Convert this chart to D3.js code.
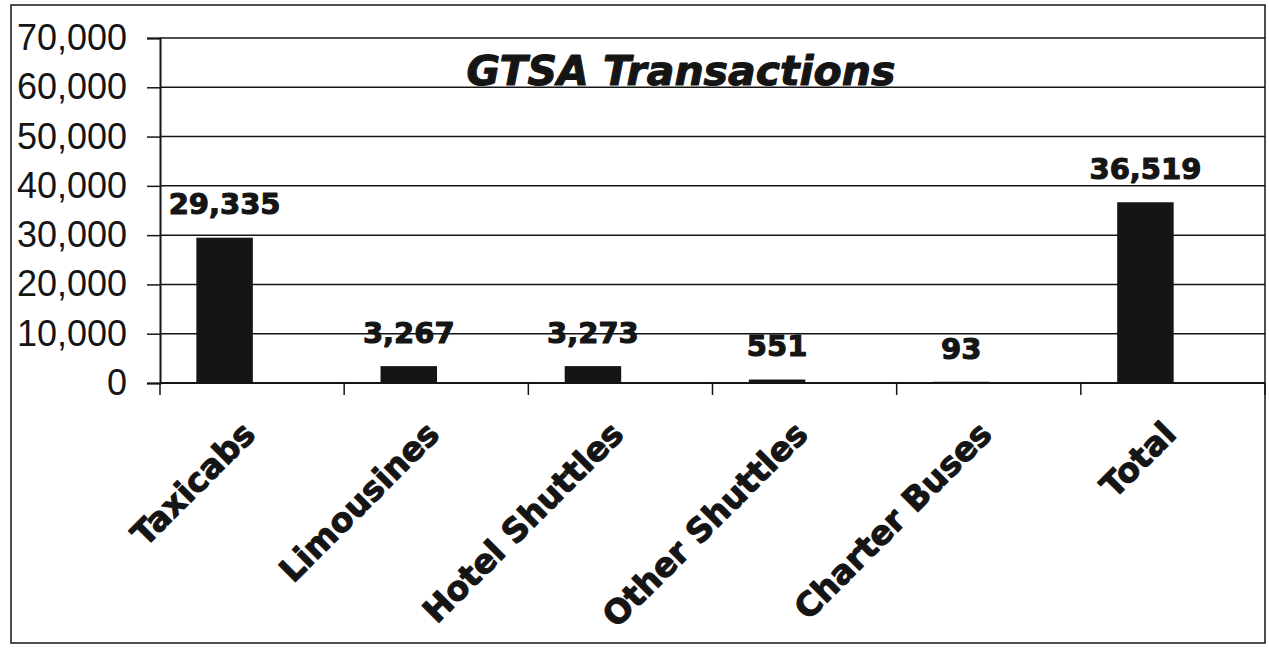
<!DOCTYPE html>
<html>
<head>
<meta charset="utf-8">
<script src="https://cdn.jsdelivr.net/npm/d3@7"></script>
<style>
  body { margin: 0; background: #fff; }
  svg { display: block; }
</style>
</head>
<body>
<svg id="chart" width="1269" height="649"></svg>
<script>
// data
var categories = ["Taxicabs", "Limousines", "Hotel Shuttles", "Other Shuttles", "Charter Buses", "Total"];
var transactions = [29335, 3267, 3273, 551, 93, 36519];
var yTicks = [0, 10000, 20000, 30000, 40000, 50000, 60000, 70000];
var title = "GTSA Transactions";

var ink = "#151515";
var svg = d3.select("#chart");

var plot = {left: 160, right: 1265, top: 38, bottom: 383};

var x = d3.scaleBand()
  .domain(categories)
  .range([plot.left, plot.right])
  .padding(0);

// excel-style cluster: value bar plus an empty slot, gap split either side
var slot = d3.scaleBand()
  .domain(["transactions", "blank"])
  .range([0, x.bandwidth()])
  .paddingInner(0)
  .paddingOuter(0.675);

var y = d3.scaleLinear()
  .domain([0, 70000])
  .range([plot.bottom, plot.top]);

var fmt = d3.format(",");

// heavy text, to stand in for Arial Black
function heavy(sel, size){
  sel.attr("fill", ink)
    .attr("stroke", ink)
    .attr("stroke-width", 1.1)
    .attr("stroke-linejoin", "round")
    .style("font-family", "'DejaVu Sans', sans-serif")
    .style("font-weight", "bold")
    .style("font-size", size + "px");
}

// outer frame
svg.append("rect")
  .attr("x", 11)
  .attr("y", 5)
  .attr("width", 1254)
  .attr("height", 638)
  .attr("fill", "none")
  .attr("stroke", ink)
  .attr("stroke-width", 1.5);

// gridlines
svg.append("g")
  .selectAll("line")
  .data(yTicks.filter(function(d){ return d > 0; }))
  .join("line")
    .attr("x1", plot.left)
    .attr("x2", plot.right)
    .attr("y1", function(d){ return y(d); })
    .attr("y2", function(d){ return y(d); })
    .attr("stroke", ink)
    .attr("stroke-width", 1.5);

// y axis
var gy = svg.append("g")
  .attr("transform", "translate(" + plot.left + ",0)")
  .call(d3.axisLeft(y).tickValues(yTicks).tickSize(13).tickPadding(20).tickFormat(fmt));
gy.select(".domain").attr("stroke", ink).attr("stroke-width", 2);
gy.selectAll(".tick line").attr("stroke", ink).attr("stroke-width", 1.5);
gy.selectAll(".tick text")
  .attr("fill", ink)
  .style("font-family", "'Liberation Sans', Arial, sans-serif")
  .style("font-size", "36px");

// bars
svg.append("g")
  .selectAll("rect")
  .data(categories)
  .join("rect")
    .attr("x", function(d){ return x(d) + slot("transactions"); })
    .attr("width", slot.bandwidth())
    .attr("y", function(d, i){ return y(transactions[i]); })
    .attr("height", function(d, i){ return y(0) - y(transactions[i]); })
    .attr("fill", ink)
    .attr("stroke", ink)
    .attr("stroke-width", 1.5);

// x axis line and category boundary ticks
svg.append("line")
  .attr("x1", plot.left)
  .attr("x2", plot.right)
  .attr("y1", y(0))
  .attr("y2", y(0))
  .attr("stroke", ink)
  .attr("stroke-width", 2);

var bounds = categories.map(function(d){ return x(d); }).concat([plot.right]);
svg.append("g")
  .selectAll("line")
  .data(bounds)
  .join("line")
    .attr("x1", function(d){ return d; })
    .attr("x2", function(d){ return d; })
    .attr("y1", y(0))
    .attr("y2", y(0) + 12)
    .attr("stroke", ink)
    .attr("stroke-width", 1.5);

// value labels
svg.append("g")
  .selectAll("text")
  .data(categories)
  .join("text")
    .attr("x", function(d){ return x(d) + slot("transactions") + slot.bandwidth() / 2; })
    .attr("y", function(d, i){ return y(transactions[i]) - 24; })
    .attr("text-anchor", "middle")
    .call(heavy, 29)
    .text(function(d, i){ return fmt(transactions[i]); });

// category labels, rotated
svg.append("g")
  .selectAll("text")
  .data(categories)
  .join("text")
    .attr("transform", function(d){
      return "translate(" + (x(d) + x.bandwidth() / 2 + 5) + "," + (y(0) + 53) + ") rotate(-45)";
    })
    .attr("text-anchor", "end")
    .call(heavy, 33)
    .text(function(d){ return d; });

// title
svg.append("text")
  .attr("x", 681)
  .attr("y", 85)
  .attr("text-anchor", "middle")
  .call(heavy, 41)
  .style("font-style", "italic")
  .text(title);
</script>
</body>
</html>
